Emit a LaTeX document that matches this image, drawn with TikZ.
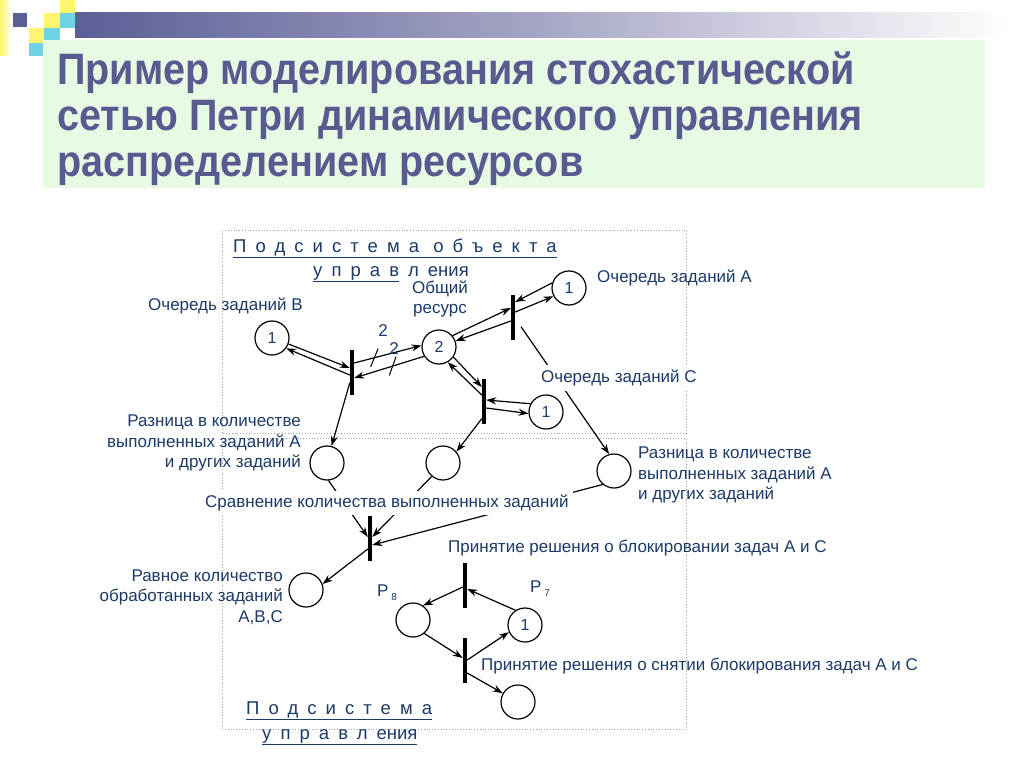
\documentclass[tikz,border=0pt]{standalone}
\usepackage{fontspec}
\usetikzlibrary{arrows.meta,decorations.markings}
\setmainfont{Liberation Sans}
\newfontfamily\titlefont[FakeStretch=0.9]{Liberation Sans Bold}
\newfontfamily\spacedfont[LetterSpace=49]{Liberation Sans}
\definecolor{titleblue}{RGB}{90,90,145}
\definecolor{textblue}{RGB}{28,58,104}
\definecolor{mint}{RGB}{230,250,228}
\definecolor{barblue}{RGB}{92,94,150}
\definecolor{sqyellow}{RGB}{255,245,110}
\definecolor{sqcyan}{RGB}{110,212,228}

\begin{document}
\begin{tikzpicture}[x=1pt,y=-1pt,
    place/.style={shape=circle,draw=black,line width=1.2pt,minimum size=34pt,inner sep=0pt,
      text=textblue,font=\fontsize{16}{18}\selectfont},
    trans/.style={fill=black,minimum width=4pt,minimum height=45pt,inner sep=0pt},
    flow/.style={line width=1.2pt,-{Stealth[length=10pt,width=7pt]}},
    lbl/.style={text=textblue,font=\fontsize{17}{20.5}\selectfont,inner sep=1pt},
    ttl/.style={text=titleblue,font=\titlefont\fontsize{44}{46}\selectfont,inner sep=0pt,anchor=base west},
    sub/.style={text=textblue,font=\fontsize{18.5}{20}\selectfont,inner sep=0pt,anchor=base west},
    wtick/.style={postaction={decorate,decoration={markings,
      mark=at position #1 with {\draw[-,line width=1pt] (-6pt,-8pt) -- (6pt,8pt);}}}},
    frame/.style={draw=black!35,dotted,line width=0.8pt}]
\useasboundingbox (0,0) rectangle (1024,767);
\fill[white] (0,0) rectangle (1024,767);

\shade[left color=sqyellow,right color=white] (0,0) rectangle (12,56);
\shade[left color=barblue,right color=white,middle color=barblue!55] (75,13) rectangle (1010,38);
\fill[barblue] (13,13) rectangle (27,27);
\fill[sqyellow] (44,13) rectangle (60,28);
\fill[sqyellow] (60,0) rectangle (75,13);
\fill[sqcyan] (60,13) rectangle (75,28);
\fill[sqcyan] (44,28) rectangle (60,40);
\fill[sqyellow] (29,28) rectangle (44,43);
\fill[sqcyan] (29,43) rectangle (44,56);
\fill[mint] (43,40) rectangle (985,188);

\node[ttl] (ttl1) at (57,85) {Пример моделирования стохастической};
\node[ttl] (ttl2) at (57,131) {сетью Петри динамического управления};
\node[ttl] (ttl3) at (57,177) {распределением ресурсов};

\draw[frame] (222,230) rectangle (686,433);
\draw[frame] (222,438) rectangle (686,729);

\node[sub] (subA) at (233,252) {{\spacedfont\underline{Подсистема объекта}}};
\node[sub] (subB) at (313,276) {{\spacedfont\underline{управ}}\hspace{9pt}л\hspace{9pt}ения};
\node[sub] (subC) at (246,714) {{\spacedfont\underline{Подсистема}}};
\node[sub] (subD) at (262,739) {\underline{{\spacedfont управл}\hspace{9pt}ения}};

\node[place] (pB) at (272,338) {1};
\node[place] (pS) at (439,347) {2};
\node[place] (pA) at (569,288) {1};
\node[place] (pC) at (546,412) {1};
\node[place] (pL) at (327,463) {};
\node[place] (pM) at (443,463) {};
\node[place] (pR) at (614,471) {};
\node[place] (pE) at (306,590) {};
\node[place] (p8) at (413,620) {};
\node[place] (p7) at (525,625) {1};
\node[place] (pO) at (518,702) {};

\node[trans] (t1) at (352,372) {};
\node[trans] (t2) at (513,317) {};
\node[trans] (t3) at (484,401) {};
\node[trans] (t4) at (370,538) {};
\node[trans] (t5) at (465,585) {};
\node[trans] (t6) at (465,660) {};

\draw[flow] (pB.-20) -- ([yshift=4pt]t1.west);
\draw[flow] ([yshift=-3pt]t1.west) -- (pB.-36);
\draw[flow,wtick=0.3] ([yshift=9pt]t1.east) -- (pS.175);
\draw[flow,wtick=0.45] (pS.212) -- ([yshift=-6pt]t1.east);
\draw[flow] (pS.40) -- ([yshift=9pt]t2.west);
\draw[flow] ([yshift=-4pt]t2.west) -- (pS.20);
\draw[flow] ([yshift=5pt]t2.east) -- (pA.208);
\draw[flow] (pA.163) -- ([yshift=15pt]t2.east);
\draw[flow] (pS.-35) -- ([yshift=14pt]t3.west);
\draw[flow] ([yshift=6pt]t3.west) -- (pS.-60);
\draw[flow] ([yshift=-7pt]t3.east) -- (pC.185);
\draw[flow] (pC.152) -- ([yshift=1pt]t3.east);
\draw[flow] ([yshift=12pt]t1.south west) -- (pL.75);
\draw[flow] ([yshift=5pt]t3.south west) -- (pM.40);
\draw[flow] ([xshift=8pt,yshift=13pt]t2.south) -- (pR.106);
\draw[flow] (pL.-85) -- ([yshift=1pt]t4.west);
\draw[flow] (pM.-130) -- ([yshift=1pt]t4.east);
\draw[flow] (pR.-130) -- ([yshift=-7pt]t4.east);
\draw[flow] ([yshift=-11pt]t4.west) -- (pE.20);
\draw[flow] ([yshift=-2pt]t5.west) -- (p8.55);
\draw[flow] (p7.123) -- ([yshift=-4pt]t5.east);
\draw[flow] (p8.-50) -- ([yshift=2pt]t6.west);
\draw[flow] (t6.east) -- (p7.-156);
\draw[flow] ([yshift=-13pt]t6.east) -- (pO.150);

\node[lbl] (w1) at (383,331) {2};
\node[lbl] (w2) at (394,349) {2};
\node[lbl,anchor=east] (lB) at (304,306) {Очередь заданий В};
\node[lbl,align=center] (lS) at (440,299) {Общий\\ресурс};
\node[lbl,anchor=west] (lA) at (596,278) {Очередь заданий А};
\node[lbl,anchor=west,fill=white,inner sep=5pt] (lC) at (536,378) {Очередь заданий С};
\node[lbl,anchor=east,align=right] (lL) at (302,443) {Разница в количестве\\выполненных заданий А\\и других заданий};
\node[lbl,anchor=west,align=left] (lR) at (637,475) {Разница в количестве\\выполненных заданий А\\и других заданий};
\node[lbl,anchor=west,fill=white,inner sep=4pt] (lCmp) at (201,503) {Сравнение количества выполненных заданий};
\node[lbl,anchor=east,align=right] (lE) at (284,597) {Равное количество\\обработанных заданий\\А,В,С};
\node[lbl,anchor=west] (lBlk) at (447,548) {Принятие решения о блокировании задач А и С};
\node[lbl,anchor=west] (lUnb) at (480,666) {Принятие решения о снятии блокирования задач А и С};
\node[lbl] (l8) at (387,593) {P\kern3pt\raisebox{-4pt}{\fontsize{10}{10}\selectfont 8}};
\node[lbl] (l7) at (540,589) {P\kern3pt\raisebox{-4pt}{\fontsize{10}{10}\selectfont 7}};
\end{tikzpicture}
\end{document}
